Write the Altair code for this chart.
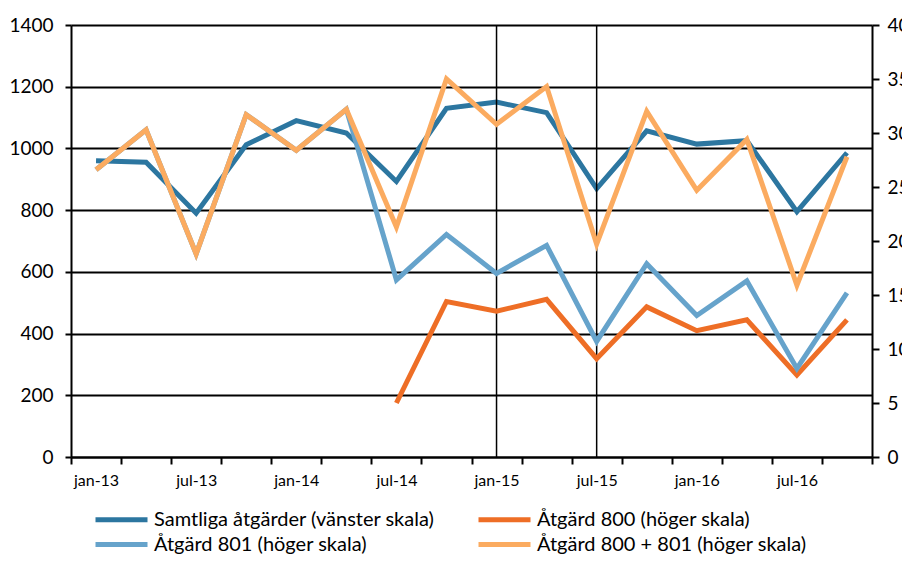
import altair as alt
import pandas as pd

periods = ["jan-13", "apr-13", "jul-13", "okt-13",
           "jan-14", "apr-14", "jul-14", "okt-14",
           "jan-15", "apr-15", "jul-15", "okt-15",
           "jan-16", "apr-16", "jul-16", "okt-16"]

samtliga = [960, 955, 790, 1012, 1090, 1050, 893, 1130,
            1150, 1116, 870, 1057, 1014, 1025, 795, 986]
atgard_800 = [None, None, None, None, None, None, 5.0, 14.4,
              13.5, 14.6, 9.1, 13.9, 11.7, 12.7, 7.6, 12.7]
atgard_801 = [26.6, 30.3, 18.8, 31.7, 28.4, 32.2, 16.4, 20.6,
              17.0, 19.6, 10.7, 17.9, 13.1, 16.3, 8.2, 15.2]
atgard_sum = [26.6, 30.3, 18.8, 31.7, 28.4, 32.2, 21.3, 35.0,
              30.8, 34.3, 19.7, 32.0, 24.7, 29.4, 15.9, 27.8]

markers = ["jan-15", "jul-15"]

names = ["Samtliga åtgärder (vänster skala)",
         "Åtgärd 800 (höger skala)",
         "Åtgärd 801 (höger skala)",
         "Åtgärd 800 + 801 (höger skala)"]
colors = ["#2C76A0", "#EE6E26", "#66A3CB", "#FBAB60"]

# legend order (grid fills column-wise)
legend_order = [names[0], names[2], names[1], names[3]]
legend_colors = [colors[0], colors[2], colors[1], colors[3]]

FONT = "Lato"


def frame(values, name):
    rows = [{"period": p, "value": v, "series": name}
            for p, v in zip(periods, values) if v is not None]
    return pd.DataFrame(rows)


x_enc = alt.X(
    "period:N",
    sort=periods,
    scale=alt.Scale(type="band", paddingInner=0, paddingOuter=0),
    axis=alt.Axis(
        title=None, orient="bottom", tickBand="extent",
        labelExpr="indexof(datum.label, 'jan') == 0 || indexof(datum.label, 'jul') == 0 ? datum.label : ''",
        labelAngle=0, labelFont=FONT, labelFontSize=16, labelColor="#000",
        labelPadding=8, tickSize=7, tickColor="#000", tickWidth=2,
        domainColor="#000", domainWidth=2, grid=False,
    ),
)

color_enc = alt.Color(
    "series:N",
    scale=alt.Scale(domain=legend_order, range=legend_colors),
    legend=alt.Legend(
        title=None, orient="none", legendX=38, legendY=482, columns=2,
        symbolType="M-2.6,0H2.6", symbolSize=400, symbolStrokeWidth=5,
        labelFont=FONT, labelFontSize=20, labelColor="#000", labelOffset=20,
        columnPadding=33, rowPadding=2, labelLimit=400,
    ),
)

left_axis = alt.Axis(
    title=None, orient="left", values=list(range(0, 1401, 200)), format="d",
    grid=True, gridColor="#000", gridWidth=2,
    labelFont=FONT, labelFontSize=19, labelColor="#000", labelPadding=12,
    tickSize=6, tickColor="#000", tickWidth=2,
    domainColor="#000", domainWidth=2,
)
right_axis = alt.Axis(
    title=None, orient="right", values=list(range(0, 41, 5)), format="d",
    grid=False,
    labelFont=FONT, labelFontSize=19, labelColor="#000", labelPadding=8,
    tickSize=7, tickColor="#000", tickWidth=2,
    domainColor="#000", domainWidth=2,
)

left_scale = alt.Scale(domain=[0, 1400], nice=False)
right_scale = alt.Scale(domain=[0, 40], nice=False)

line_samtliga = alt.Chart(frame(samtliga, names[0])).mark_line(strokeWidth=5).encode(
    x=x_enc, y=alt.Y("value:Q", scale=left_scale, axis=left_axis), color=color_enc
)

rules = alt.Chart(pd.DataFrame({"period": markers})).mark_rule(
    color="#000", strokeWidth=1.5
).encode(x=alt.X("period:N", sort=periods))


def right_line(values, name):
    return alt.Chart(frame(values, name)).mark_line(strokeWidth=5).encode(
        x=x_enc, y=alt.Y("value:Q", scale=right_scale, axis=right_axis), color=color_enc
    )


right_layer = alt.layer(
    right_line(atgard_800, names[1]),
    right_line(atgard_801, names[2]),
    right_line(atgard_sum, names[3]),
)

left_layer = alt.layer(line_samtliga, rules)

chart = alt.layer(left_layer, right_layer).resolve_scale(y="independent").properties(
    width=801, height=432,
    padding={"left": 63, "top": 17, "right": 30, "bottom": 98},
    autosize=alt.AutoSizeParams(type="none"),
).configure_view(stroke=None)

chart.save("out.html", embed_options={"renderer": "svg", "actions": False})
